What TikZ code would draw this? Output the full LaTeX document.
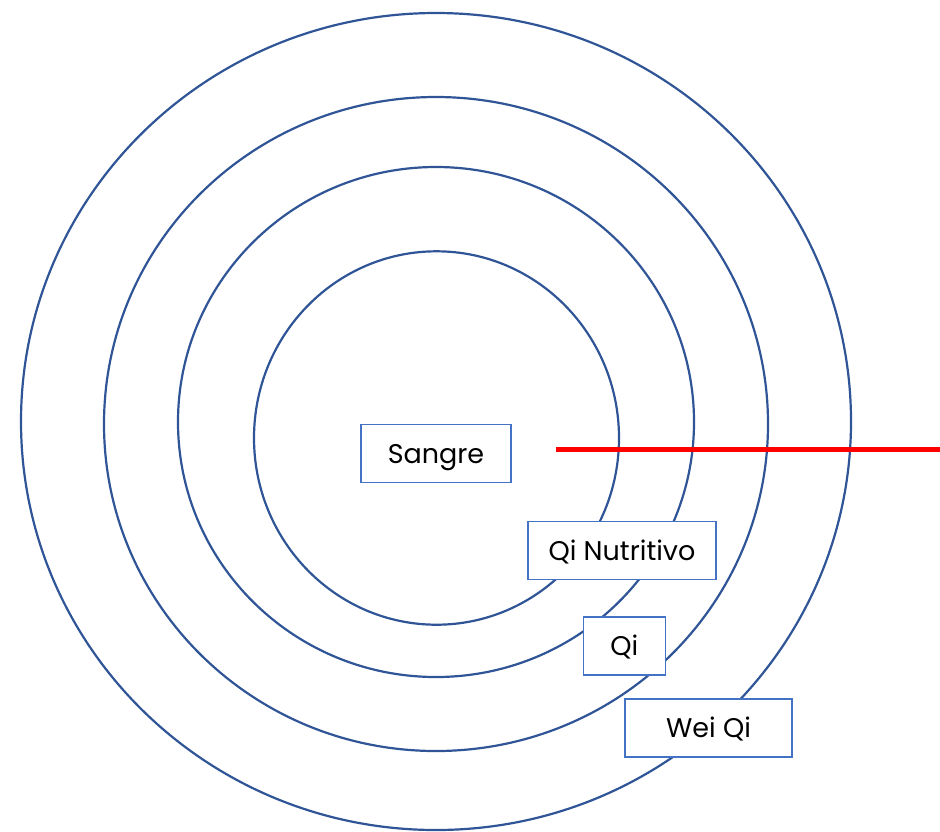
\documentclass[tikz,border=0pt]{standalone}
\usepackage{fontspec}
\setmainfont{Poppins}
\usepackage{xcolor}
\definecolor{ringblue}{HTML}{2F5597}
\definecolor{boxblue}{HTML}{4472C4}
\definecolor{cutred}{HTML}{FF0000}
\tikzset{
  ring/.style={draw=ringblue, line width=1.1pt},
  layerbox/.style={draw=boxblue, fill=white, line width=0.75pt, inner sep=0pt,
    minimum height=29pt, text height=11pt, text depth=1.5pt,
    font=\fontsize{13.5}{15}\selectfont},
}

\begin{document}
\begin{tikzpicture}[x=0.5pt, y=-0.5pt]
  \useasboundingbox (0, 0) rectangle (940, 831);

  % the four layers
  \draw [ring] (436, 421.5) ellipse [x radius=207.5pt, y radius=204.25pt];
  \draw [ring] (436, 424) ellipse [x radius=166pt, y radius=163.5pt];
  \draw [ring] (436, 422) ellipse [x radius=129pt, y radius=127.5pt];
  \draw [ring] (436.5, 438) ellipse [x radius=91.25pt, y radius=93.35pt];

  % cut line
  \coordinate (cutstart) at (556, 449);
  \coordinate (cutend) at (940, 449);
  \draw [cutred, line width=2.5pt] (cutstart) -- (cutend);

  \node [layerbox, minimum width=75pt] (sangre) at (436, 453.5) {Sangre};
  \node [layerbox, minimum width=94pt] (qinutritivo) at (622, 550.5) {Qi Nutritivo};
  \node [layerbox, minimum width=41pt] (qi) at (624.3, 646) {Qi};
  \node [layerbox, minimum width=83.5pt] (weiqi) at (708.5, 728) {Wei Qi};
\end{tikzpicture}
\end{document}
